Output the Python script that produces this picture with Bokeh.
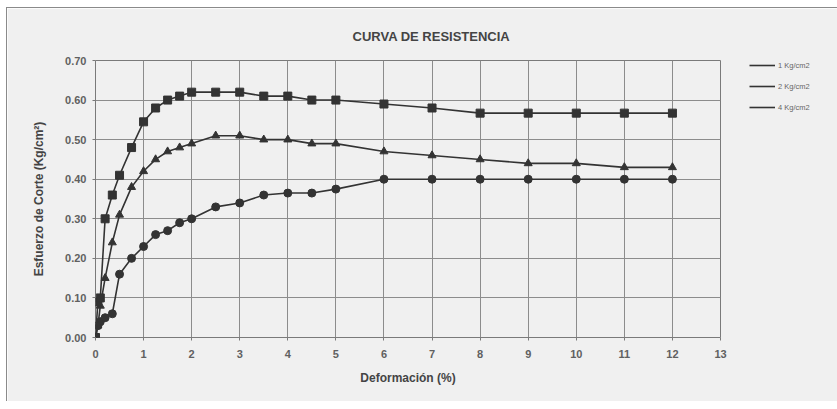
from bokeh.plotting import figure
from bokeh.models import Legend, LegendItem, FixedTicker, NumeralTickFormatter, Range1d
from bokeh.embed import file_html
from bokeh.resources import INLINE

# Data
deformacion = [0, 0.05, 0.1, 0.2, 0.35, 0.5, 0.75, 1.0, 1.25, 1.5, 1.75, 2.0, 2.5,
               3.0, 3.5, 4.0, 4.5, 5.0, 6, 7, 8, 9, 10, 11, 12]
esf_1 = [0.00, 0.03, 0.04, 0.05, 0.06, 0.16, 0.20, 0.23, 0.26, 0.27, 0.29, 0.30, 0.33,
         0.34, 0.36, 0.365, 0.365, 0.375, 0.40, 0.40, 0.40, 0.40, 0.40, 0.40, 0.40]
esf_2 = [0.00, 0.03, 0.08, 0.15, 0.24, 0.31, 0.38, 0.42, 0.45, 0.47, 0.48, 0.49, 0.51,
         0.51, 0.50, 0.50, 0.49, 0.49, 0.47, 0.46, 0.45, 0.44, 0.44, 0.43, 0.43]
esf_4 = [0.00, 0.09, 0.10, 0.30, 0.36, 0.41, 0.48, 0.545, 0.58, 0.60, 0.61, 0.62, 0.62,
         0.62, 0.61, 0.61, 0.60, 0.60, 0.59, 0.58, 0.567, 0.567, 0.567, 0.567, 0.567]
series_names = ["1 Kg/cm2", "2 Kg/cm2", "4 Kg/cm2"]
x_ticks = list(range(0, 14))
y_ticks = [0.0, 0.1, 0.2, 0.3, 0.4, 0.5, 0.6, 0.7]

FONT = "Liberation Sans"
DARK = "#333333"
BG = "#f0f0f0"

p = figure(frame_width=625, frame_height=277, output_backend="svg", toolbar_location=None,
           x_range=Range1d(0, 13), y_range=Range1d(0, 0.70),
           min_border_left=88, min_border_right=100, min_border_top=52, min_border_bottom=64,
           title="CURVA DE RESISTENCIA",
           styles={"border-left": "1px solid #8a8a8a", "border-top": "1px solid #8a8a8a",
                   "margin-left": "6px", "margin-top": "7px"})
p.background_fill_color = BG
p.border_fill_color = BG
p.outline_line_color = "#7a7a7a"

p.title.align = "left"
p.title.offset = 257
p.title.text_font = FONT
p.title.text_font_size = "13px"
p.title.text_font_style = "bold"
p.title.text_color = "#444444"
p.title.standoff = 33

p.xaxis.ticker = FixedTicker(ticks=x_ticks)
p.yaxis.ticker = FixedTicker(ticks=y_ticks)
p.yaxis.formatter = NumeralTickFormatter(format="0.00")
for ax in (p.xaxis[0], p.yaxis[0]):
    ax.axis_line_color = None
    ax.major_tick_line_color = "#7a7a7a"
    ax.major_tick_out = 3
    ax.major_tick_in = 0
    ax.minor_tick_line_color = None
    ax.major_label_text_font = FONT
    ax.major_label_text_font_size = "11px"
    ax.major_label_text_font_style = "bold"
    ax.major_label_text_color = "#606060"
    ax.axis_label_text_font = FONT
    ax.axis_label_text_font_size = "12px"
    ax.axis_label_text_font_style = "bold"
    ax.axis_label_text_color = "#444444"
p.xaxis.axis_label = "Deformación (%)"
p.yaxis.axis_label = "Esfuerzo de Corte (Kg/cm²)"
p.xaxis.major_label_standoff = 9
p.xaxis.axis_label_standoff = 10
p.yaxis.major_label_standoff = 6
p.yaxis.axis_label_standoff = 16

p.grid.grid_line_color = "#8c8c8c"
p.grid.grid_line_width = 1

l1 = p.line(deformacion, esf_1, line_color=DARK, line_width=1.6)
m1 = p.scatter(deformacion, esf_1, marker="circle", size=8, fill_color=DARK, line_color=DARK)
l2 = p.line(deformacion, esf_2, line_color=DARK, line_width=1.6)
m2 = p.scatter(deformacion, esf_2, marker="triangle", size=8, fill_color=DARK, line_color=DARK)
l4 = p.line(deformacion, esf_4, line_color=DARK, line_width=1.6)
m4 = p.scatter(deformacion, esf_4, marker="square", size=8, fill_color=DARK, line_color=DARK)

legend = Legend(items=[
    LegendItem(label=series_names[0], renderers=[l1]),
    LegendItem(label=series_names[1], renderers=[l2]),
    LegendItem(label=series_names[2], renderers=[l4]),
], location=(29, 225))
legend.background_fill_alpha = 0
legend.border_line_color = None
legend.label_text_font = FONT
legend.label_text_font_size = "7.5px"
legend.label_text_color = "#666666"
legend.glyph_width = 26
legend.glyph_height = 10
legend.label_height = 10
legend.spacing = 11
legend.margin = 0
legend.padding = 0
legend.label_standoff = 3
p.add_layout(legend, "right")

open("out.html", "w").write(file_html(p, INLINE))
